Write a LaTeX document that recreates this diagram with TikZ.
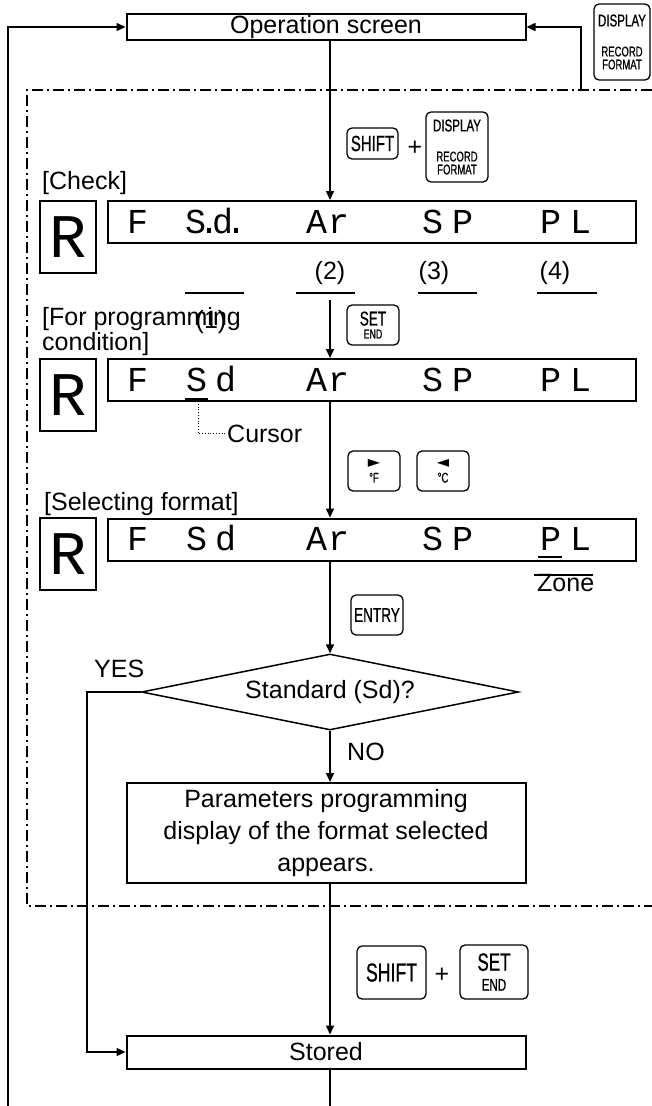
\documentclass[tikz,border=0pt]{standalone}
\usepackage{fontspec}
\setmainfont{Liberation Sans}
\newfontfamily\segfont{Liberation Mono}
\newfontfamily\keyfont{Liberation Sans}[FakeStretch=0.68,FakeBold=0.8]
\newfontfamily\symfont{DejaVu Sans}
\usepackage{tikz}
\usetikzlibrary{arrows.meta,positioning,shapes.geometric}

\newcommand{\teclaformato}{\fontsize{17}{12}\selectfont DISPLAY\\[18pt]%
  \fontsize{14}{12}\selectfont RECORD\\[1pt]\fontsize{14}{12}\selectfont FORMAT}

\begin{document}
\begin{tikzpicture}[x=1pt,y=-1pt,>={Triangle[length=9pt,width=8pt]},
  font=\fontsize{25}{30}\selectfont,
  caja/.style={draw,line width=2pt,minimum width=399pt,inner sep=0pt},
  pantalla/.style={draw,line width=2pt,minimum width=528pt,minimum height=42pt,inner sep=0pt},
  letra/.style={draw,line width=1.5pt,minimum width=56pt,minimum height=72pt,inner sep=0pt,
    font=\segfont\fontsize{62}{62}\selectfont},
  seg/.style={anchor=base west,inner sep=0pt,font=\segfont\fontsize{35}{35}\selectfont},
  tecla/.style={draw,rounded corners=5pt,line width=1.3pt,inner sep=0pt,align=center,
    font=\keyfont\fontsize{14}{12}\selectfont},
  flecha/.style={->,line width=1.5pt},
  rayapunto/.style={line width=1.5pt,dash pattern=on 11pt off 4pt on 2pt off 4pt},
  texto/.style={anchor=base west,inner sep=0pt}]

\useasboundingbox (0,0) rectangle (652,1106);
\coordinate (eje) at (330,0);

% Pantalla de operacion y retornos
\node[caja,minimum height=26pt] (op) at (326,27) {Operation screen};
\node[tecla,minimum width=56pt,minimum height=76pt] (kdisp) at (622,42) {\teclaformato};
\coordinate (der) at (581,90);
\coordinate (izq) at (8,1106);
\draw[flecha] (der) |- (op.east);
\draw[flecha] (izq) |- (op.west);

% Zona de programacion
\draw[rayapunto] (652,90) -- (27,90) -- (27,906) -- (652,906);

\node[tecla,minimum width=51pt,minimum height=31pt] (kshift) at (372.5,143.5)
  {\fontsize{22}{12}\selectfont SHIFT};
\node (mas) at (415,148) {+};
\node[tecla,minimum width=62pt,minimum height=70pt] (kdisp2) at (457,147) {\teclaformato};

% [Check]
\node[texto] (tcheck) at (42,189) {[Check]};
\node[letra] (r1) at (68,237) {R};
\node[pantalla] (d1) at (372,222) {};
\node[seg] (d1f)  at (127,233) {F};
\node[seg] (d1sd) at (185,233) {S\kern-7.5pt.\kern-7.5pt d\kern-7.5pt.};
\node[seg] (d1ar) at (306,233) {A\kern1pt r};
\node[seg] (d1sp) at (422,233) {S\kern9pt P};
\node[seg] (d1pl) at (540,233) {P\kern9pt L};
\draw[flecha] (op.south -| eje) -- (eje |- d1.north);

% Numeros de campo
\node (n1) at (211,322) {(1)};
\node (n2) at (330,273) {(2)};
\node (n3) at (434,273) {(3)};
\node (n4) at (555,273) {(4)};
\draw[line width=1.2pt] (185,293) -- (244,293);
\draw[line width=1.2pt] (296,293) -- (355,293);
\draw[line width=1.2pt] (418,293) -- (477,293);
\draw[line width=1.2pt] (537,293) -- (597,293);

% [For programming condition]
\node[anchor=north west,align=left,inner sep=0pt,font=\fontsize{25}{25}\selectfont] (tprog)
  at (42,307) {[For programming\\condition]};
\node[tecla,minimum width=52pt,minimum height=40pt] (kset) at (373,325)
  {\fontsize{20}{12}\selectfont SET\\[1pt]\fontsize{13}{12}\selectfont END};
\coordinate (c2) at (330,300);

\node[letra] (r2) at (68,395) {R};
\node[pantalla] (d2) at (372,380) {};
\node[seg] (d2f)  at (127,391) {F};
\node[seg] (d2sd) at (186,391) {S\kern8pt d};
\node[seg] (d2ar) at (306,391) {A\kern1pt r};
\node[seg] (d2sp) at (422,391) {S\kern9pt P};
\node[seg] (d2pl) at (540,391) {P\kern9pt L};
\draw[line width=2pt] (185,399) -- (208,399);
\draw[flecha] (c2) -- (c2 |- d2.north);

% Cursor
\node[texto] (tcur) at (227,442) {Cursor};
\draw[line width=0.8pt,dotted] (198,401) |- (tcur.west);

\node[tecla,minimum width=52pt,minimum height=40pt] (kright) at (374,471)
  {{\symfont\fontsize{16}{14}\selectfont ►}\\[3pt]\fontsize{14}{14}\selectfont °F};
\node[tecla,minimum width=52pt,minimum height=40pt] (kleft) at (443,471)
  {{\symfont\fontsize{16}{14}\selectfont ◄}\\[3pt]\fontsize{14}{14}\selectfont °C};

% [Selecting format]
\node[texto] (tsel) at (44,510) {[Selecting format]};
\node[letra] (r3) at (68,554) {R};
\node[pantalla] (d3) at (372,539.5) {};
\node[seg] (d3f)  at (127,550) {F};
\node[seg] (d3sd) at (186,550) {S\kern8pt d};
\node[seg] (d3ar) at (306,550) {A\kern1pt r};
\node[seg] (d3sp) at (422,550) {S\kern9pt P};
\node[seg] (d3pl) at (540,550) {P\kern9pt L};
\draw[line width=2pt] (538,557) -- (562,557);
\draw[flecha] (d2.south -| eje) -- (eje |- d3.north);

\node[texto] (tzone) at (537,591) {Zone};
\draw[line width=1.5pt] (534,575) -- (593,575);

% Decision
\node[tecla,minimum width=52pt,minimum height=40pt] (kent) at (377,615)
  {\fontsize{20}{12}\selectfont ENTRY};
\node[diamond,draw,line width=1.5pt,aspect=4.96,minimum width=377pt,minimum height=76pt,
  inner sep=0pt] (dia) at (330,692) {Standard (Sd)?};
\draw[flecha] (d3.south -| eje) -- (dia.north);

\node[texto] (tyes) at (94,677) {YES};
\node[texto] (tno) at (347,760) {NO};
\coordinate (si) at (87,692);

\node[caja,minimum height=100pt,align=center,font=\fontsize{25}{32}\selectfont] (par)
  at (326,833) {Parameters programming\\display of the format selected\\appears.};
\draw[flecha] (dia.south) -- (dia.south |- par.north);

% Registro
\node[tecla,minimum width=69pt,minimum height=53pt] (kshift2) at (391.5,972.5)
  {\fontsize{26}{12}\selectfont SHIFT};
\node (mas2) at (442,975) {+};
\node[tecla,minimum width=68pt,minimum height=54pt] (kset2) at (494,972)
  {\fontsize{25}{12}\selectfont SET\\[8pt]\fontsize{17}{12}\selectfont END};

\node[caja,minimum height=33pt] (stor) at (326,1052) {Stored};
\draw[flecha] (par.south -| eje) -- (eje |- stor.north);
\draw[flecha] (dia.west) -- (si) |- (stor.west);
\draw[line width=1.5pt] (stor.south -| eje) -- (eje |- izq);

\end{tikzpicture}
\end{document}
